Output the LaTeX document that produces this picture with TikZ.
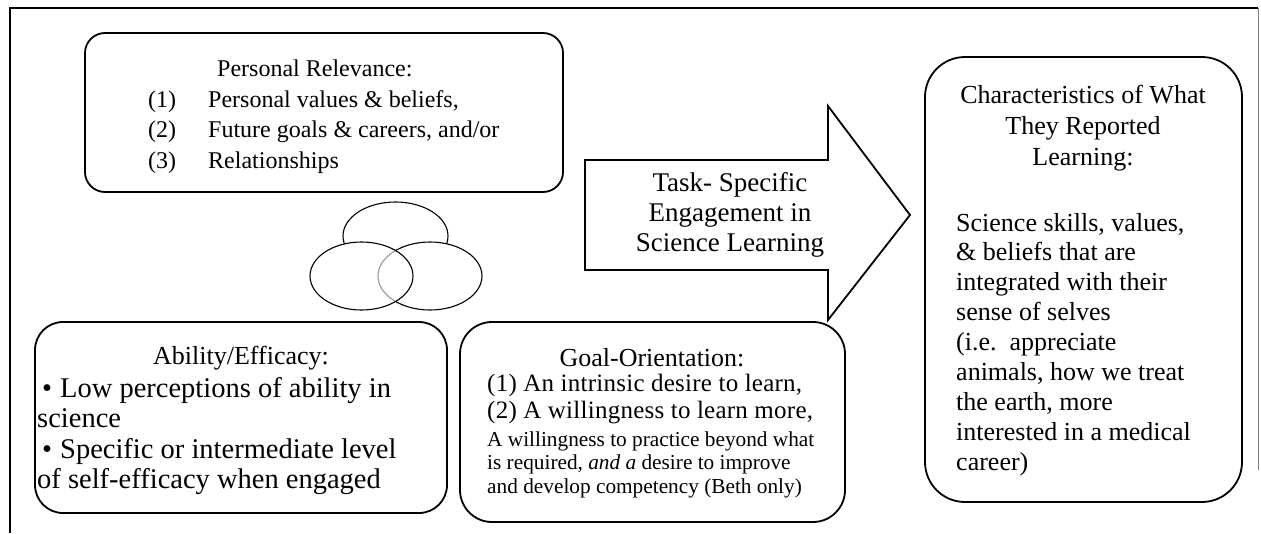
\documentclass[tikz,border=0pt]{standalone}
\usepackage{fontspec}
\setmainfont{Liberation Serif}
\begin{document}
\begin{tikzpicture}[x=1pt,y=-1pt,
  box/.style={draw, line width=1.8pt, inner sep=0pt},
  txt/.style={inner sep=0pt, anchor=base west},
  ctxt/.style={inner sep=0pt, anchor=base},
  oval/.style={line width=1.1pt}]
\useasboundingbox (0,0) rectangle (1261,533);
% outer frame
\draw[line width=2.4pt] (10,533) -- (10,8) -- (1258,8);
\draw[gray, line width=0.8pt] (1258,8) -- (1258,470);

% boxes
\node[box, rounded corners=20pt, minimum width=478pt, minimum height=159pt] (pr) at (324,112.5) {};
\node[box, rounded corners=28pt, minimum width=412pt, minimum height=191pt] (ab) at (241,417.5) {};
\node[box, rounded corners=32pt, minimum width=385pt, minimum height=200pt] (go) at (652.5,422) {};
\node[box, rounded corners=40pt, minimum width=317pt, minimum height=445pt] (ch) at (1083.5,279.5) {};

% ellipses
\draw[oval] (395.5,236) ellipse [x radius=52.5pt, y radius=34pt];
\fill[white] (361.5,276) ellipse [x radius=51.5pt, y radius=34pt];
\fill[white] (430,276) ellipse [x radius=52pt, y radius=34pt];
\draw[oval] (430,276) ellipse [x radius=52pt, y radius=34pt];
\fill[white, opacity=0.6] (361.5,276) ellipse [x radius=51.5pt, y radius=34pt];
\draw[oval] (361.5,276) ellipse [x radius=51.5pt, y radius=34pt];

% block arrow
\draw[line width=1.8pt, line join=miter] (585,160) -- (828,160) -- (828,106) -- (910,215) -- (828,320) -- (828,270) -- (585,270) -- cycle;

% Personal relevance text
\node[txt, font=\fontsize{24}{30.5}\selectfont] (prt) at (217,76) {Personal Relevance:};
\node[txt, font=\fontsize{24}{30.5}\selectfont] (prl) at (148,107)
  {\begin{tabular}[t]{@{}p{60pt}@{}l@{}}(1) & Personal values \& beliefs,\\ (2) & Future goals \& careers, and/or\\ (3) & Relationships\end{tabular}};

% Ability text
\node[ctxt, font=\fontsize{26}{30}\selectfont] (abt) at (241,364) {Ability/Efficacy:};
\node[txt, font=\fontsize{28.5}{30.5}\selectfont] (abl) at (37,397)
  {\begin{tabular}[t]{@{}l@{}}\hspace{5pt}•\hspace{8pt}Low perceptions of ability in\\ science\\ \hspace{5pt}•\hspace{8pt}Specific or intermediate level\\ of self-efficacy when engaged\end{tabular}};

% Goal text
\node[ctxt, font=\fontsize{26}{30}\selectfont] (got) at (652,366) {Goal-Orientation:};
\node[txt, font=\fontsize{25}{27}\selectfont\addfontfeature{LetterSpace=1}] (gol) at (487,391)
  {\begin{tabular}[t]{@{}l@{}}(1) An intrinsic desire to learn,\\ (2) A willingness to learn more,\end{tabular}};
\node[txt, font=\fontsize{21.3}{23.5}\selectfont] (gos) at (487,446)
  {\begin{tabular}[t]{@{}l@{}}A willingness to practice beyond what\\ is required, \textit{and a} desire to improve\\ and develop competency (Beth only)\end{tabular}};

% Arrow text
\node[ctxt, font=\fontsize{27}{30}\selectfont] (eng) at (730,191)
  {\begin{tabular}[t]{@{}c@{}}Task- Specific\\ Engagement in\\ Science Learning\end{tabular}};

% Characteristics text
\node[ctxt, font=\fontsize{26}{31}\selectfont] (cht) at (1083,103)
  {\begin{tabular}[t]{@{}c@{}}Characteristics of What\\ They Reported\\ Learning:\end{tabular}};
\node[txt, font=\fontsize{26}{29.9}\selectfont] (chl) at (956,231)
  {\begin{tabular}[t]{@{}l@{}}Science skills, values,\\ \& beliefs that are\\ integrated with their\\ sense of selves\\ (i.e.\ \ appreciate\\ animals, how we treat\\ the earth, more\\ interested in a medical\\ career)\end{tabular}};
\end{tikzpicture}
\end{document}
